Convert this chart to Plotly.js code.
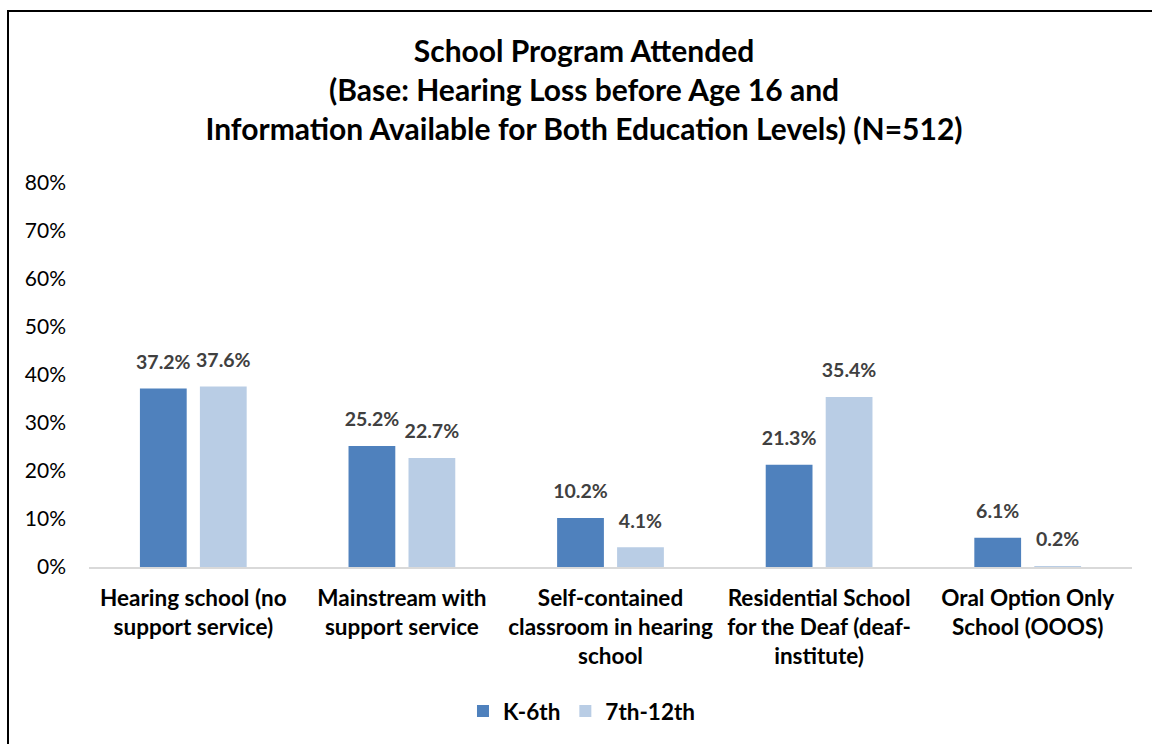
<!DOCTYPE html>
<html>
<head>
<meta charset="utf-8">
<script src="https://cdn.plot.ly/plotly-3.0.1.min.js"></script>
<style>
  html, body { margin: 0; padding: 0; background: #fff; }
  #wrap { position: relative; width: 1152px; height: 744px; overflow: hidden; }
  #chart { position: absolute; left: 0; top: 0; width: 1152px; height: 744px; }
  #frame { position: absolute; left: 7px; top: 10px; width: 1160px; height: 760px;
           border-left: 2px solid #000; border-top: 2px solid #000; pointer-events: none; }
</style>
</head>
<body>
<div id="wrap">
  <div id="chart"></div>
  <div id="frame"></div>
</div>
<script>
const categories = [
  "Hearing school (no<br>support service)",
  "Mainstream with<br>support service",
  "Self-contained<br>classroom in hearing<br>school",
  "Residential School<br>for the Deaf (deaf-<br>institute)",
  "Oral Option Only<br>School (OOOS)"
];
const seriesNames = ["K-6th", "7th-12th"];
const k6Values = [37.2, 25.2, 10.2, 21.3, 6.1];
const g712Values = [37.6, 22.7, 4.1, 35.4, 0.2];
const yTicks = [0, 10, 20, 30, 40, 50, 60, 70, 80];

const FONT = "Lato, 'Open Sans', sans-serif";
const colors = ["#4F81BD", "#B9CDE5"];
const seriesValues = [k6Values, g712Values];
const groups = ["a", "b"];

const traces = [];
seriesValues.forEach((vals, i) => {
  traces.push({
    type: "bar",
    name: seriesNames[i],
    x: categories,
    y: vals,
    offsetgroup: groups[i],
    marker: { color: colors[i], line: { width: 0 } },
    hoverinfo: "skip"
  });
});
seriesValues.forEach((vals, i) => {
  traces.push({
    type: "scatter",
    mode: "markers+text",
    x: categories,
    y: vals,
    offsetgroup: groups[i],
    text: vals.map(v => v.toFixed(1) + "%"),
    textposition: "top center",
    textfont: { family: FONT, size: 19.5, color: "#404040", weight: "bold" },
    marker: { size: 22, color: "rgba(0,0,0,0)" },
    showlegend: false,
    hoverinfo: "skip",
    cliponaxis: false
  });
});

const layout = {
  width: 1152,
  height: 744,
  paper_bgcolor: "#ffffff",
  plot_bgcolor: "#ffffff",
  margin: { l: 89, r: 20, t: 183, b: 177 },
  barmode: "group",
  bargap: 0.425,
  bargroupgap: 0.22,
  scattermode: "group",
  scattergap: 0.425,
  font: { family: FONT, color: "#000" },
  title: {
    text: "<b>School Program Attended<br>(Base: Hearing Loss before Age 16 and<br>Information Available for Both Education Levels) (N=512)</b>",
    font: { family: FONT, size: 30, color: "#000" },
    x: 0.507, xref: "container", xanchor: "center",
    y: 0.9167, yref: "container", yanchor: "top"
  },
  xaxis: {
    type: "category",
    showline: true,
    linecolor: "#D9D9D9",
    linewidth: 1.5,
    ticks: "",
    showgrid: false,
    zeroline: false,
    tickfont: { family: FONT, size: 22.5, color: "#000", weight: "bold" },
    ticklabelstandoff: 10,
    fixedrange: true
  },
  yaxis: {
    range: [0, 80],
    tickvals: yTicks,
    ticktext: yTicks.map(v => v + "%"),
    showline: false,
    showgrid: false,
    zeroline: false,
    ticks: "",
    tickfont: { family: FONT, size: 21, color: "#000" },
    ticklabelstandoff: 22,
    fixedrange: true
  },
  showlegend: true,
  legend: {
    orientation: "h",
    x: 0.5052, xref: "container", xanchor: "center",
    y: 0.044, yref: "container", yanchor: "middle",
    font: { family: FONT, size: 22.5, color: "#000", weight: "bold" },
    traceorder: "normal",
    itemwidth: 30
  }
};

Plotly.newPlot("chart", traces, layout, { displayModeBar: false, staticPlot: true });
</script>
</body>
</html>
